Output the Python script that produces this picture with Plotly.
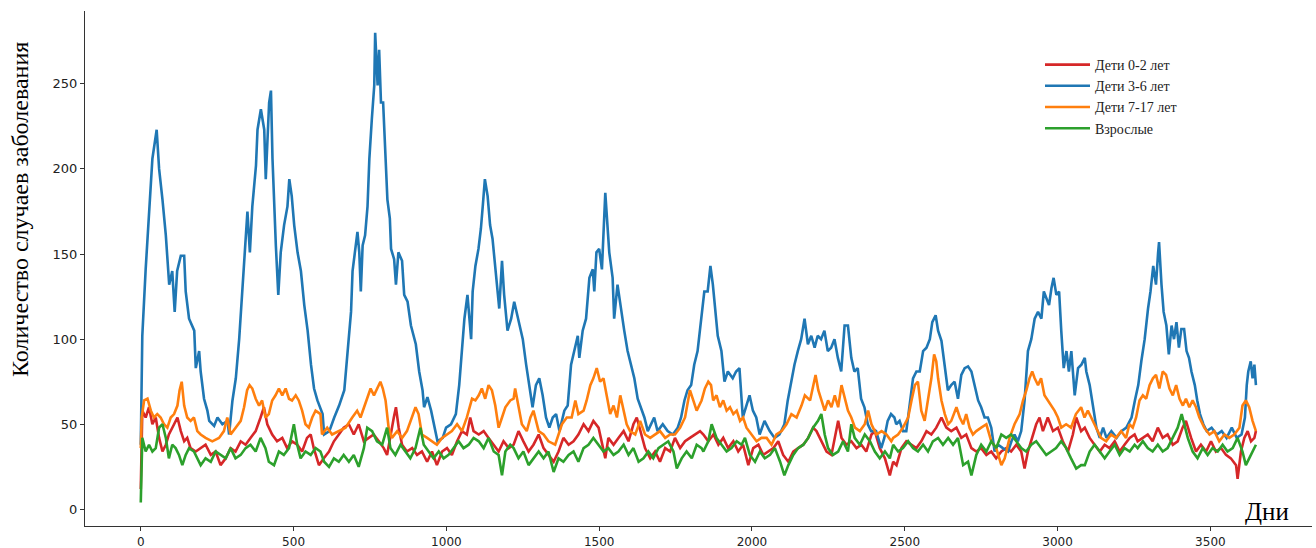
import plotly.graph_objects as go

# ---- data (day, cases) ----
red_days = [0, 5, 16, 27, 38, 49, 60, 71, 82, 92, 109, 120, 131, 142, 152, 163, 180, 196, 212, 229,
            245, 261, 278, 294, 310, 327, 343, 359, 376, 392, 403, 414, 430, 446, 463, 479, 495, 512, 528, 544,
            556, 566, 583, 599,
            616, 632, 648, 664, 681, 697, 713, 730, 746, 762, 779, 795, 806, 817, 828, 835, 844, 855, 871, 888,
            904, 920, 937, 953, 969, 986, 1002, 1018, 1035, 1051, 1067, 1078, 1089, 1106, 1122, 1138, 1155, 1171, 1187, 1204,
            1220,
            1236, 1252, 1269, 1285, 1302, 1318, 1334, 1351, 1367, 1383, 1400, 1416, 1432, 1449, 1465, 1481, 1498, 1508, 1520, 1530,
            1547, 1563, 1580, 1596, 1612, 1623, 1634, 1650, 1667, 1683, 1699, 1716, 1732, 1748, 1765, 1781, 1797, 1814, 1830,
            1841, 1857, 1874, 1890, 1906, 1922, 1939, 1955, 1971, 1988, 2004, 2021, 2037, 2053, 2070, 2086, 2102, 2119, 2135, 2151,
            2168, 2184, 2200, 2211, 2227, 2244, 2260, 2271, 2282, 2293, 2309, 2325, 2342, 2358, 2374, 2391, 2402, 2418, 2435, 2451,
            2462, 2473, 2489, 2505, 2522, 2538, 2554, 2571, 2587, 2603, 2620, 2636, 2652, 2669, 2685, 2701, 2718, 2734, 2750, 2767,
            2783, 2799, 2816, 2832, 2848, 2865, 2881, 2892, 2903, 2914, 2930, 2941, 2952, 2968, 2985, 3001, 3017, 3034, 3050, 3061,
            3077,
            3089, 3105, 3121, 3138, 3154, 3170, 3187, 3203, 3219, 3236, 3252, 3262, 3279, 3295, 3311, 3328, 3344, 3360, 3377, 3393,
            3409, 3420, 3437, 3453, 3469, 3486, 3502, 3518, 3535, 3551, 3567, 3584, 3589, 3600, 3611, 3622, 3633, 3644, 3649]
red_vals = [12, 58, 54, 60, 50, 54, 42, 34, 38, 44, 50, 54, 46, 40, 42, 36, 34, 36, 38, 32,
            34, 26, 30, 36, 34, 40, 38, 42, 46, 54, 60, 50, 44, 40, 42, 36, 40, 38, 34, 42,
            44, 36, 26, 30,
            34, 40, 44, 48, 50, 44, 50, 40, 42, 44, 40, 36, 32, 44, 54, 60, 48, 38, 34, 36,
            32, 34, 28, 34, 26, 34, 36, 32, 40, 46, 44, 54, 46, 44, 46, 42, 38, 34, 40, 36,
            38,
            46, 40, 34, 38, 44, 36, 32, 28, 34, 42, 38, 40, 44, 50, 46, 52, 48, 40, 30, 42,
            38, 42, 46, 40, 50, 54, 46, 36, 30, 34, 28, 36, 34, 42, 36, 40, 42, 44, 46,
            44, 40, 44, 38, 42, 36, 40, 34, 38, 26, 36, 38, 32, 34, 36, 40, 32, 28, 34, 36,
            38, 42, 48, 46, 40, 34, 32, 42, 52, 42, 38, 40, 36, 38, 34, 44, 46, 36, 30, 20,
            28, 26, 36, 40, 38, 36, 40, 46, 44, 48, 54, 48, 46, 48, 42, 44, 36, 34, 36, 32,
            34, 30, 34, 36, 34, 38, 34, 24, 34, 40, 50, 54, 46, 54, 46, 48, 40, 34, 44, 54,
            46,
            48, 42, 38, 34, 38, 36, 40, 34, 38, 42, 44, 40, 42, 44, 40, 48, 42, 44, 38, 40,
            48, 52, 42, 34, 38, 34, 40, 34, 36, 32, 30, 26, 18, 34, 42, 46, 40, 42, 46]

blue_days = [0, 5, 16, 27, 38, 52, 60, 71, 82, 93, 103, 111, 119, 131, 142, 147, 158, 175, 180, 191,
             196, 207, 218, 224, 240, 251, 267, 284, 289, 300, 311, 322, 333, 344, 349, 357, 365, 377, 382, 393,
             404, 409, 420, 426, 431, 442, 450, 458, 469, 480, 486, 494, 502, 513, 524, 535, 546, 557, 567, 578,
             595,
             600, 617, 633, 649, 666, 676, 688, 693, 701, 709, 715, 720, 726, 734, 742, 748, 756, 764, 767, 775,
             780, 786, 793, 800, 807, 815, 819, 829, 835, 843, 855, 862, 873, 884, 900, 911, 922, 927, 938, 950,
             960, 971, 988, 999, 1015, 1031, 1042, 1051, 1059, 1069, 1081, 1086, 1095, 1105, 1113, 1119, 1126, 1135, 1143, 1151,
             1162, 1173, 1182, 1189, 1200, 1212, 1222,
             1239, 1250, 1261, 1272, 1282, 1293, 1304, 1315, 1326, 1337, 1348, 1359, 1370, 1386, 1397, 1408, 1419, 1430, 1435, 1446,
             1457, 1468, 1479, 1484, 1491, 1500, 1509, 1514, 1520, 1527, 1533, 1544, 1549, 1560, 1572, 1582, 1593, 1604, 1615, 1626,
             1637, 1648, 1659, 1670, 1680, 1691, 1708, 1724, 1741, 1757, 1768, 1779, 1789, 1801, 1811, 1822, 1834, 1844,
             1855, 1864, 1872, 1877, 1888, 1900, 1910, 1921, 1937, 1948, 1959, 1970, 1981, 1992, 2003, 2014, 2025, 2041, 2058, 2074,
             2090, 2106, 2117, 2128, 2139, 2150, 2161, 2172, 2183, 2194, 2205, 2215, 2226, 2237, 2248, 2259, 2270, 2281, 2292, 2303,
             2314, 2325, 2335, 2346, 2357, 2368, 2379, 2390, 2406, 2423, 2433, 2444, 2455, 2466,
             2472, 2483, 2494, 2505, 2516, 2527, 2538, 2549, 2560, 2571, 2582, 2590, 2601, 2609, 2620, 2631, 2641, 2652, 2663, 2674,
             2685, 2696, 2707, 2718, 2729, 2740, 2750, 2761, 2772, 2783, 2794, 2805, 2821, 2838, 2849, 2859, 2870, 2881, 2892, 2903,
             2914, 2925, 2936, 2947, 2955, 2963, 2972, 2980, 2987, 2996, 3005, 3012, 3020, 3029, 3037, 3045, 3056, 3067, 3078, 3089,
             3094, 3105, 3116, 3127, 3138, 3149, 3160, 3176, 3193, 3209, 3225, 3242, 3253, 3264, 3274, 3285, 3296, 3304, 3313, 3322,
             3329, 3332, 3340, 3347, 3356, 3364, 3373, 3381, 3389, 3397, 3405, 3414, 3422, 3430, 3438, 3449, 3457, 3466, 3477, 3488,
             3504, 3521, 3537, 3553, 3570, 3586, 3602, 3613, 3619, 3624, 3632, 3638, 3644, 3649]
blue_vals = [38, 102, 141, 171, 206, 223, 200, 182, 161, 132, 140, 116, 140, 149, 149, 128, 112, 105, 83, 93,
             81, 65, 58, 52, 49, 54, 50, 52, 44, 64, 77, 100, 132, 163, 175, 151, 178, 202, 223, 235,
             223, 194, 239, 246, 206, 155, 126, 151, 167, 178, 194, 184, 167, 151, 140, 120, 105, 85, 71, 64,
             56,
             44, 46, 54, 61, 70, 93, 116, 140, 151, 163, 151, 128, 155, 161, 178, 206, 229, 249, 280, 249,
             270, 239, 239, 214, 182, 171, 153, 147, 132, 151, 146, 126, 122, 108, 97, 81, 70, 60, 66, 58,
             50, 40, 42, 48, 50, 56, 73, 93, 112, 126, 100, 128, 143, 153, 165, 178, 194, 184, 167, 159,
             140, 118, 146, 126, 105, 112, 122,
             108, 100, 85, 73, 60, 73, 77, 67, 54, 48, 54, 56, 46, 58, 61, 85, 93, 102, 89, 105,
             112, 136, 141, 128, 151, 153, 141, 163, 186, 167, 151, 136, 112, 132, 116, 105, 93, 85, 77, 65,
             60, 54, 46, 50, 54, 46, 50, 46, 44, 48, 54, 64, 70, 73, 85, 93, 112, 128,
             128, 143, 132, 122, 102, 93, 75, 81, 77, 81, 83, 54, 61, 67, 58, 54, 44, 52, 46, 42,
             44, 50, 64, 75, 85, 93, 100, 112, 97, 102, 95, 102, 100, 105, 93, 95, 100, 89, 81, 108,
             108, 89, 81, 83, 65, 60, 50, 46, 46, 36, 42, 52, 56, 54,
             50, 52, 46, 46, 61, 77, 81, 81, 93, 95, 100, 110, 114, 105, 99, 85, 70, 73, 75, 65,
             79, 83, 84, 81, 73, 64, 60, 54, 54, 48, 34, 38, 36, 34, 40, 44, 40, 46, 64, 93,
             100, 112, 116, 112, 128, 124, 120, 130, 136, 126, 128, 105, 83, 93, 81, 93, 67, 83, 85, 89,
             81, 73, 61, 48, 42, 48, 42, 46, 42, 46, 48, 54, 64, 73, 87, 100, 118, 128, 143, 132,
             151, 157, 132, 116, 108, 91, 108, 100, 110, 95, 106, 106, 93, 89, 81, 73, 64, 56, 50, 46,
             48, 44, 46, 42, 48, 42, 44, 54, 73, 81, 87, 77, 85, 73]

orange_days = [0, 3, 11, 22, 33, 43, 54, 65, 76, 87, 98, 109, 120, 127, 134, 142, 152, 163, 174, 185,
               196, 212, 234, 256, 272, 283, 294, 310, 327, 338, 348, 356, 365, 376, 387, 397, 408, 419, 430, 441,
               452, 463, 474, 485, 495, 507, 517, 528, 539, 550, 561, 572, 588,
               593, 610, 626, 648, 670, 692, 708, 719, 730, 741, 752, 763, 773, 784, 792, 801, 811, 822, 839, 855,
               871, 888, 899, 909, 920, 937, 953, 969, 986, 1002, 1018, 1035, 1051, 1067, 1084, 1095, 1106, 1116, 1127, 1138,
               1149, 1160, 1171, 1182, 1193, 1209, 1220,
               1225, 1236, 1247, 1263, 1275, 1285, 1302, 1318, 1334, 1356, 1378, 1394, 1410, 1422, 1432, 1449, 1459, 1471, 1481, 1492,
               1503, 1514, 1525, 1536, 1547, 1558, 1569, 1580, 1590, 1601, 1618, 1634, 1650, 1667, 1683, 1699, 1716, 1732, 1748, 1765,
               1781, 1797, 1808, 1819, 1835,
               1846, 1857, 1866, 1873, 1884, 1895, 1906, 1917, 1928, 1939, 1950, 1961, 1971, 1982, 1999, 2015, 2031, 2048, 2064, 2080,
               2097, 2113, 2129, 2146, 2162, 2173, 2190, 2200, 2208, 2217, 2227, 2238, 2249, 2260, 2271, 2282, 2293, 2304, 2314, 2325,
               2337, 2353, 2369, 2380, 2391, 2407, 2424, 2440, 2456,
               2462, 2478, 2494, 2511, 2522, 2533, 2543, 2554, 2565, 2576, 2587, 2596, 2603, 2609, 2620, 2631, 2642, 2652, 2669, 2680,
               2691, 2701, 2712, 2723, 2734, 2750, 2767, 2783, 2799, 2816, 2827, 2843, 2859, 2876, 2887, 2898, 2908, 2917, 2925, 2936,
               2946, 2957, 2968, 2979, 2990, 3001, 3012, 3028, 3044, 3060, 3077,
               3088, 3099, 3110, 3126, 3142, 3159, 3175, 3191, 3208, 3224, 3235, 3246, 3257, 3268, 3279, 3290, 3301, 3312, 3322, 3333,
               3344, 3355, 3366, 3377, 3388, 3399, 3410, 3420, 3431, 3442, 3453, 3464, 3480, 3497, 3513, 3529, 3546, 3562, 3578, 3595,
               3605, 3616, 3627, 3638, 3649]
orange_vals = [36, 54, 64, 65, 58, 54, 56, 54, 50, 48, 54, 56, 61, 70, 75, 61, 54, 52, 54, 46,
               44, 42, 40, 42, 46, 54, 44, 48, 52, 60, 70, 73, 71, 65, 61, 64, 54, 56, 64, 67,
               71, 67, 71, 65, 64, 67, 64, 58, 50, 48, 54, 58, 56,
               44, 48, 44, 46, 48, 54, 58, 54, 60, 65, 71, 67, 71, 75, 71, 64, 48, 42, 46, 42,
               46, 54, 60, 56, 44, 42, 40, 38, 42, 44, 46, 50, 46, 54, 65, 64, 67, 71, 65, 73,
               70, 61, 48, 54, 60, 64, 65,
               71, 60, 50, 46, 54, 58, 46, 44, 40, 38, 50, 54, 54, 64, 56, 58, 64, 73, 77, 83,
               75, 77, 67, 56, 61, 54, 67, 58, 50, 46, 44, 52, 44, 42, 44, 46, 42, 44, 44, 48,
               54, 70, 64, 58, 64,
               71, 75, 73, 64, 67, 60, 64, 58, 60, 56, 58, 52, 54, 48, 44, 40, 42, 42, 38, 44,
               46, 50, 56, 54, 61, 67, 64, 73, 79, 70, 64, 58, 64, 60, 67, 60, 73, 65, 58, 54,
               48, 46, 50, 58, 50, 44, 46, 44, 40,
               42, 44, 48, 54, 64, 73, 75, 58, 52, 64, 77, 91, 87, 77, 64, 56, 50, 52, 60, 54,
               50, 56, 48, 44, 46, 48, 50, 40, 36, 26, 30, 42, 50, 56, 64, 70, 77, 81, 77, 73,
               77, 67, 64, 61, 58, 54, 48, 50, 48, 56, 60,
               54, 58, 54, 48, 42, 40, 44, 42, 46, 42, 50, 48, 54, 64, 67, 65, 73, 77, 79, 71,
               81, 79, 71, 67, 73, 65, 61, 65, 60, 64, 60, 54, 48, 44, 46, 40, 44, 42, 44, 48,
               61, 64, 60, 52, 46]

green_days = [0, 5, 16, 27, 38, 49, 60, 71, 82, 92, 103, 114, 125, 136, 147, 158, 174, 185, 196, 212,
              229, 245, 261, 278, 294, 310, 327, 343, 359, 376, 392, 408, 419, 436, 452, 468, 485, 501, 512, 523,
              539, 556, 572, 588,
              600, 616, 632, 648, 664, 681, 697, 713, 730, 741, 757, 773, 790, 806, 817, 833, 850, 866, 882, 899,
              915, 926, 942, 958, 975, 991, 1007, 1024, 1040, 1056, 1073, 1089, 1106, 1122, 1138, 1155, 1171, 1182, 1193, 1209,
              1220, 1236, 1252, 1269, 1285, 1302, 1318, 1334, 1351, 1367, 1383, 1400, 1416, 1432, 1449, 1465, 1481, 1498, 1514, 1530,
              1547, 1563, 1580, 1596, 1612, 1629, 1645, 1661, 1677, 1694, 1710, 1726, 1743, 1754, 1770, 1786, 1803, 1819, 1835,
              1841, 1857, 1868, 1884, 1901, 1917, 1933, 1950, 1966, 1977, 1993, 2010, 2026, 2042, 2059, 2075, 2092, 2106, 2119, 2135,
              2151, 2168, 2184, 2200, 2216, 2227, 2238, 2249, 2265, 2282, 2298, 2314, 2325, 2336, 2353, 2369, 2386, 2402, 2418, 2435,
              2451,
              2462, 2478, 2494, 2511, 2527, 2543, 2560, 2576, 2592, 2609, 2625, 2642, 2658, 2674, 2691, 2707, 2718, 2734, 2750, 2767,
              2783, 2799, 2816, 2832, 2848, 2865, 2881, 2897, 2914, 2930, 2946, 2963, 2979, 2995, 3012, 3028, 3044, 3061, 3077,
              3089, 3105, 3121, 3138, 3154, 3170, 3187, 3203, 3219, 3236, 3252, 3262, 3279, 3295, 3311, 3328, 3344, 3360, 3377, 3393,
              3406, 3415, 3426, 3442, 3458, 3475, 3491, 3507, 3524, 3540, 3556, 3573, 3589, 3605, 3616, 3627, 3638, 3649]
green_vals = [4, 42, 34, 38, 34, 36, 48, 50, 42, 30, 38, 36, 32, 26, 32, 36, 34, 30, 26, 30,
              28, 34, 32, 30, 36, 30, 32, 36, 38, 34, 42, 36, 28, 26, 34, 32, 36, 50, 38, 30,
              34, 32, 36, 34,
              28, 25, 30, 28, 32, 28, 32, 25, 36, 48, 46, 40, 38, 48, 36, 32, 38, 34, 30, 36,
              48, 38, 34, 30, 34, 30, 32, 36, 40, 36, 38, 42, 40, 36, 42, 34, 32, 20, 34, 38,
              36, 30, 34, 26, 30, 34, 30, 34, 22, 30, 28, 32, 34, 28, 36, 38, 42, 38, 34, 36,
              32, 34, 38, 32, 36, 28, 30, 34, 30, 36, 38, 40, 34, 24, 30, 34, 30, 38, 36,
              34, 40, 50, 42, 38, 34, 36, 40, 38, 42, 32, 28, 34, 30, 32, 36, 28, 20, 26, 32,
              36, 38, 42, 48, 52, 56, 44, 36, 32, 34, 40, 34, 50, 42, 38, 44, 40, 34, 30, 34,
              30,
              38, 34, 36, 40, 36, 34, 38, 34, 40, 42, 38, 42, 38, 42, 26, 28, 20, 32, 38, 34,
              40, 36, 44, 42, 44, 40, 36, 34, 38, 40, 36, 32, 34, 36, 40, 36, 30, 24, 26,
              26, 34, 38, 34, 30, 34, 38, 32, 36, 34, 38, 36, 40, 36, 34, 38, 34, 36, 42, 48,
              56, 50, 42, 34, 30, 36, 32, 36, 34, 38, 34, 36, 42, 34, 26, 30, 34, 38]

series_names = ["Дети 0-2 лет", "Дети 3-6 лет", "Дети 7-17 лет", "Взрослые"]
series_colors = ["#d62728", "#1f77b4", "#ff7f0e", "#2ca02c"]
x_ticks = [0, 500, 1000, 1500, 2000, 2500, 3000, 3500]
y_ticks = [0, 50, 100, 150, 200, 250]

series = [(red_days, red_vals), (blue_days, blue_vals), (orange_days, orange_vals), (green_days, green_vals)]

fig = go.Figure()
for (d, v), name, col in zip(series, series_names, series_colors):
    fig.add_trace(go.Scatter(x=d, y=v, mode="lines", name=name,
                             line=dict(color=col, width=2.6)))

W, H = 1316, 548
ml, mr, mt, mb = 85, 4, 11, 22
pw, ph = W - ml - mr, H - mt - mb

def px_x(px):
    return (px - ml) / pw

def px_y(py):
    return (H - mb - py) / ph

axis_common = dict(showline=True, linecolor="#333333", linewidth=1.2, ticks="outside",
                   ticklen=4, tickwidth=1.2, tickcolor="#333333", showgrid=False, zeroline=False,
                   automargin=False, mirror=False)

fig.update_layout(
    width=W, height=H,
    margin=dict(l=ml, r=mr, t=mt, b=mb, pad=0, autoexpand=False),
    paper_bgcolor="white", plot_bgcolor="white",
    xaxis=dict(range=[-182.5, 3832.5], tickvals=x_ticks,
               tickfont=dict(family="DejaVu Sans", size=12, color="#222222"), **axis_common),
    yaxis=dict(range=[-9.75, 292.75], tickvals=y_ticks,
               tickfont=dict(family="DejaVu Sans", size=13, color="#222222"), **axis_common),
    showlegend=True,
    legend=dict(x=px_x(1040), y=px_y(49), xanchor="left", yanchor="top",
                bgcolor="rgba(0,0,0,0)", font=dict(family="Liberation Serif", size=14, color="#222222"),
                itemwidth=45, tracegroupgap=0),
    annotations=[
        dict(text="Количество случаев заболевания", textangle=-90, xref="paper", yref="paper",
             x=px_x(20), y=px_y(210), xanchor="center", yanchor="middle", showarrow=False,
             font=dict(family="Liberation Serif", size=24, color="black")),
        dict(text="Дни", xref="paper", yref="paper", x=px_x(1267), y=px_y(511),
             xanchor="center", yanchor="middle", showarrow=False,
             font=dict(family="Liberation Serif", size=25, color="black")),
    ],
)

fig.write_html("out.html")
